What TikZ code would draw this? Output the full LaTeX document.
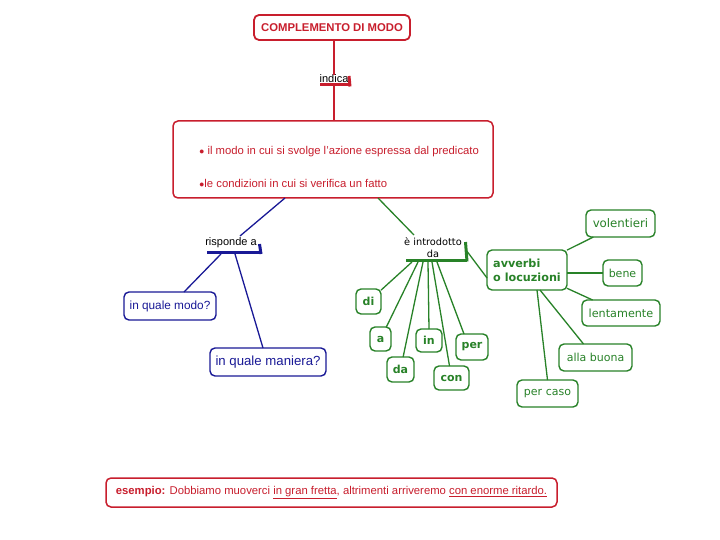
\documentclass[tikz,border=0pt]{standalone}
\usepackage{fontspec}
\setmainfont{Liberation Sans}
\newfontfamily\dv{DejaVu Sans}
\definecolor{cred}{RGB}{200,30,45}
\definecolor{cblue}{RGB}{25,25,150}
\definecolor{cgreen}{RGB}{40,130,40}
\begin{document}
\begin{tikzpicture}[x=1pt,y=-1pt,
  every node/.style={inner sep=0pt, outer sep=0pt},
  redbox/.style={draw=cred, line width=1.5pt, rounded corners=5pt, text=cred},
  bluebox/.style={draw=cblue, line width=1.4pt, rounded corners=5pt, text=cblue, font=\fontsize{11.8}{13}\selectfont},
  greenbox/.style={draw=cgreen, line width=1.4pt, rounded corners=5pt, text=cgreen, font=\dv\fontsize{11}{12}\selectfont},
  gbold/.style={greenbox, font=\dv\bfseries\fontsize{11}{12}\selectfont},
  link/.style={font=\fontsize{11}{13}\selectfont, text=black},
  rline/.style={draw=cred, line width=1.3pt},
  bline/.style={draw=cblue, line width=1.3pt},
  gline/.style={draw=cgreen, line width=1.3pt},
  rbar/.style={draw=cred, line width=3pt},
  bbar/.style={draw=cblue, line width=3pt},
  gbar/.style={draw=cgreen, line width=3pt}]
\useasboundingbox[fill=white] (0,0) rectangle (720,540);

% title
\node[redbox, line width=1.8pt, minimum width=156pt, minimum height=25pt, font=\bfseries\fontsize{11.3}{13}\selectfont] (title) at (332,27.5) {COMPLEMENTO DI MODO};
\node[link] (indica) at (334,79) {indica};
\coordinate (ib1) at (320,85);
\coordinate (ib2) at (350,85);
\coordinate (ib3) at (349,76);
\draw[rbar] (ib1) -- (ib2);
\draw[rbar] (ib3) -- ([yshift=-1.5pt]ib2);

% main box
\node[redbox, minimum width=320pt, minimum height=77pt] (main) at (333,159.5) {};
\node[text=cred, font=\fontsize{11.3}{13}\selectfont, anchor=west] (m1) at (199,152) {{\fontsize{9}{9}\selectfont●} il modo in cui si svolge l'azione espressa dal predicato};
\node[text=cred, font=\fontsize{11.3}{13}\selectfont, anchor=west] (m2) at (199,183) {{\fontsize{9}{9}\selectfont●}le condizioni in cui si verifica un fatto};
\draw[rline] (title.south -| indica) -- (indica.north);
\draw[rline] (ib1 -| indica) -- (main.north -| indica);

% blue branch
\node[link] (risp) at (231,243) {risponde a};
\coordinate (bb1) at (207,252.5);
\coordinate (bb2) at (261,252.5);
\coordinate (bb3) at (259.5,244);
\draw[bbar] (bb1) -- (bb2);
\draw[bbar] (bb3) -- ([yshift=-1.5pt]bb2);
\coordinate (mb) at (285,198);
\coordinate (rt) at (240,236);
\draw[bline] (mb) -- (rt);
\node[bluebox, minimum width=92pt, minimum height=28pt] (qm) at (170,306) {in quale modo?};
\node[bluebox, minimum width=116pt, minimum height=28pt, font=\fontsize{13.2}{14}\selectfont] (qman) at (268,362) {in quale maniera?};
\coordinate (bs1) at (221,254);
\coordinate (bs2) at (235,254);
\draw[bline] (bs1) -- ([xshift=14pt]qm.north);
\draw[bline] (bs2) -- ([xshift=-5pt]qman.north);

% green branch
\node[font=\dv\fontsize{9.8}{12}\selectfont, align=center] (intro) at (433,248) {è introdotto\\da};
\coordinate (gb1) at (406,260);
\coordinate (gb2) at (467,260);
\coordinate (gb3) at (465.5,242);
\draw[gbar] (gb1) -- (gb2);
\draw[gbar] (gb3) -- ([yshift=-1.5pt]gb2);
\coordinate (mg) at (378,198);
\coordinate (it) at (414,235);
\draw[gline] (mg) -- (it);

\node[gbold, minimum width=25pt, minimum height=25pt] (di) at (368.5,301.5) {di};
\node[gbold, minimum width=21pt, minimum height=24pt] (a) at (380.5,339) {a};
\node[gbold, minimum width=27pt, minimum height=25pt] (da) at (400.5,369.5) {da};
\node[gbold, minimum width=26pt, minimum height=23pt] (in) at (429,340.5) {in};
\node[gbold, minimum width=35pt, minimum height=24pt] (con) at (451.5,378) {con};
\node[gbold, minimum width=32pt, minimum height=26pt] (per) at (472,347) {per};
\coordinate (g1) at (412,262);
\coordinate (g2) at (418,262);
\coordinate (g3) at (423,262);
\coordinate (g4) at (428,262);
\coordinate (g5) at (432,262);
\coordinate (g6) at (437,262);
\draw[gline] (g1) -- (di);
\draw[gline] (g2) -- (a);
\draw[gline] (g3) -- (da);
\draw[gline] (g4) -- (in.north);
\draw[gline] (g5) -- ([xshift=-2pt]con.north);
\draw[gline] (g6) -- ([xshift=-8pt]per.north);

\node[gbold, minimum width=80pt, minimum height=40pt, align=left, font=\dv\bfseries\fontsize{11.2}{14}\selectfont] (avv) at (527,270) {avverbi\\o locuzioni};
\coordinate (gr) at (466,250);
\draw[gline] (gr) -- ([yshift=-8pt]avv.west);

\node[greenbox, minimum width=69pt, minimum height=27pt, font=\dv\fontsize{11.8}{12}\selectfont] (vol) at (620.5,223.5) {volentieri};
\node[greenbox, minimum width=39pt, minimum height=26pt] (bene) at (622.5,273) {bene};
\node[greenbox, minimum width=78pt, minimum height=26pt, font=\dv\fontsize{11.2}{12}\selectfont] (lent) at (621,313) {lentamente};
\node[greenbox, minimum width=73pt, minimum height=27pt] (alla) at (595.5,357.5) {alla buona};
\node[greenbox, minimum width=61pt, minimum height=27pt] (caso) at (547.5,393.5) {per caso};
\draw[gline] (avv) -- (vol);
\draw[gline, line width=2.2pt] (avv.east |- bene) -- (bene.west);
\draw[gline] (avv) -- (lent);
\draw[gline] ([xshift=13pt]avv.south) -- ([xshift=-12pt]alla.north);
\draw[gline] ([xshift=10pt]avv.south) -- (caso.north);

% example
\node[redbox, minimum width=451pt, minimum height=29pt, text=cred, font=\fontsize{11.3}{13}\selectfont] (ex) at (331.5,492.5)
  {\textbf{esempio:} Dobbiamo muoverci \underline{in gran fretta}, altrimenti arriveremo \underline{con enorme ritardo.}};
\end{tikzpicture}
\end{document}
